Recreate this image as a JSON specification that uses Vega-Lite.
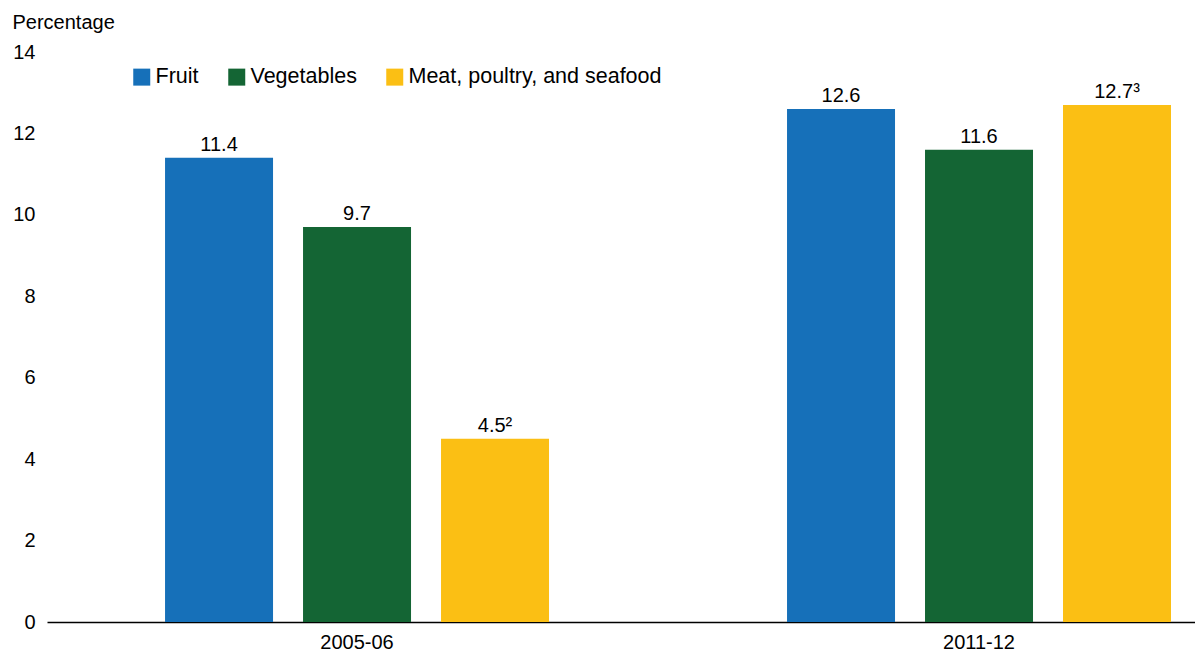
{
  "$schema": "https://vega.github.io/schema/vega-lite/v6.json",
  "autosize": "none",
  "width": 1148,
  "height": 570,
  "padding": {"left": 47, "top": 52, "right": 0, "bottom": 32},
  "background": "white",
  "config": {
    "font": "Liberation Sans",
    "view": {"stroke": null},
    "text": {"font": "Liberation Sans"}
  },
  "data": {
    "values": [
      {"period": "2005-06", "category": "Fruit", "value": 11.4, "label": "11.4"},
      {"period": "2005-06", "category": "Vegetables", "value": 9.7, "label": "9.7"},
      {"period": "2005-06", "category": "Meat, poultry, and seafood", "value": 4.5, "label": "4.5²"},
      {"period": "2011-12", "category": "Fruit", "value": 12.6, "label": "12.6"},
      {"period": "2011-12", "category": "Vegetables", "value": 11.6, "label": "11.6"},
      {"period": "2011-12", "category": "Meat, poultry, and seafood", "value": 12.7, "label": "12.7³"}
    ]
  },
  "encoding": {
    "x": {
      "field": "period",
      "type": "nominal",
      "sort": null,
      "scale": {"paddingInner": 0.3055, "paddingOuter": 0.0756, "align": 1},
      "axis": {
        "title": null,
        "labelAngle": 0,
        "labelFontSize": 20,
        "labelColor": "black",
        "labelPadding": 10,
        "ticks": false,
        "domainColor": "black",
        "domainWidth": 1.5
      }
    },
    "xOffset": {
      "field": "category",
      "type": "nominal",
      "sort": ["Fruit", "Vegetables", "Meat, poultry, and seafood"],
      "scale": {"paddingInner": 0.2174, "paddingOuter": 0.1739}
    },
    "y": {
      "field": "value",
      "type": "quantitative",
      "scale": {"domain": [0, 14]},
      "axis": {
        "title": "Percentage",
        "titleAngle": 0,
        "titleAlign": "left",
        "titleBaseline": "alphabetic",
        "titleX": -35,
        "titleY": -24,
        "titleFontSize": 20,
        "titleFontWeight": "normal",
        "titleColor": "black",
        "values": [0, 2, 4, 6, 8, 10, 12, 14],
        "labelFontSize": 20,
        "labelColor": "black",
        "labelPadding": 12,
        "ticks": false,
        "domain": false,
        "grid": false
      }
    }
  },
  "layer": [
    {
      "mark": {"type": "bar"},
      "encoding": {
        "color": {
          "field": "category",
          "type": "nominal",
          "sort": ["Fruit", "Vegetables", "Meat, poultry, and seafood"],
          "scale": {
            "domain": ["Fruit", "Vegetables", "Meat, poultry, and seafood"],
            "range": ["#1670b9", "#146534", "#fbbf14"]
          },
          "legend": {
            "title": null,
            "orient": "none",
            "legendX": 84,
            "legendY": 14,
            "direction": "horizontal",
            "symbolType": "square",
            "symbolSize": 289,
            "symbolStrokeWidth": 0,
            "symbolOpacity": 1,
            "labelFontSize": 21.5,
            "labelColor": "black",
            "labelOffset": 3,
            "labelLimit": 500,
            "columnPadding": 27
          }
        }
      }
    },
    {
      "mark": {"type": "text", "baseline": "alphabetic", "dy": -7, "fontSize": 20, "color": "black"},
      "encoding": {
        "text": {"field": "label"}
      }
    }
  ]
}
